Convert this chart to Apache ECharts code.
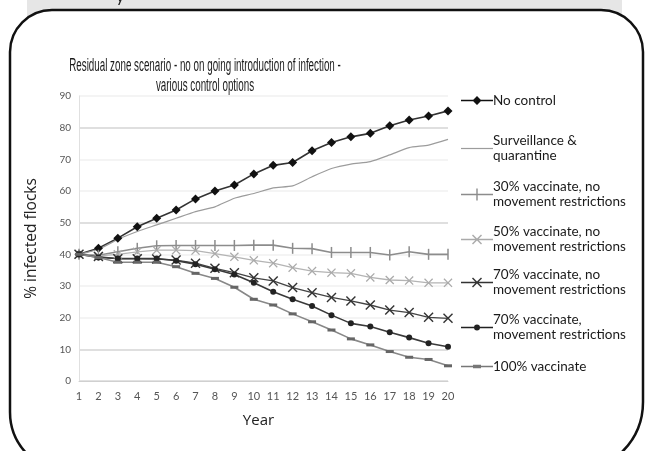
<!DOCTYPE html>
<html>
<head>
<meta charset="utf-8">
<script src="https://cdn.jsdelivr.net/npm/echarts@6/dist/echarts.min.js"></script>
<style>
  html, body { margin: 0; padding: 0; background: #fff; }
  #chart { width: 650px; height: 451px; }
</style>
</head>
<body>
<div id="chart"></div>
<script>
const years = ['1','2','3','4','5','6','7','8','9','10','11','12','13','14','15','16','17','18','19','20'];
const yTicks = [0, 10, 20, 30, 40, 50, 60, 70, 80, 90];

const noControl      = [40.0, 41.9, 45.1, 48.7, 51.4, 54.0, 57.5, 60.0, 61.9, 65.4, 68.1, 69.0, 72.7, 75.3, 77.1, 78.2, 80.6, 82.4, 83.7, 85.3];
const surveillance   = [40.0, 41.6, 44.7, 47.2, 49.3, 51.4, 53.5, 55.0, 57.7, 59.2, 61.0, 61.6, 64.5, 67.1, 68.5, 69.3, 71.4, 73.7, 74.5, 76.3];
const vacc30         = [40.0, 39.7, 40.8, 41.9, 42.7, 42.8, 42.8, 42.8, 42.8, 42.9, 42.9, 41.9, 41.8, 40.6, 40.6, 40.6, 39.8, 40.8, 40.0, 40.0];
const vacc50         = [40.0, 39.5, 40.0, 40.8, 41.3, 41.3, 41.2, 40.2, 39.2, 38.1, 37.2, 35.8, 34.7, 34.2, 34.0, 32.7, 31.9, 31.7, 31.0, 31.0];
const vacc70         = [40.0, 39.3, 38.6, 38.6, 38.5, 38.2, 37.2, 35.6, 34.2, 32.6, 31.6, 29.5, 27.9, 26.4, 25.3, 24.0, 22.4, 21.6, 20.1, 19.8];
const vacc70Movement = [40.0, 39.0, 38.7, 38.7, 38.7, 38.0, 36.9, 35.3, 33.6, 31.0, 28.2, 25.8, 23.7, 20.8, 18.2, 17.2, 15.4, 13.7, 11.9, 10.8];
const vacc100        = [40.0, 39.0, 37.5, 37.5, 37.5, 36.1, 34.0, 32.4, 29.6, 25.8, 24.0, 21.2, 18.7, 16.1, 13.3, 11.4, 9.3, 7.5, 6.8, 4.8];

const names = [
  'No control',
  'Surveillance &\nquarantine',
  '30% vaccinate, no\nmovement restrictions',
  '50% vaccinate, no\nmovement restrictions',
  '70% vaccinate, no\nmovement restrictions',
  '70% vaccinate,\nmovement restrictions',
  '100% vaccinate'
];

// marker shapes
const crossPath = 'path://M0,1L1,0L5,4L9,0L10,1L6,5L10,9L9,10L5,6L1,10L0,9L4,5Z';

// legend icons: line + marker in a 32x12 box
const box = 'M0,0L0,0M32,12L32,12';
const lineBar = 'M0,5.3H32V6.7H0Z';
const legendIcons = [
  'path://' + box + lineBar + 'M16,1.5L20.5,6L16,10.5L11.5,6Z',
  'path://' + box + 'M0,5.4H32V6.6H0Z',
  'path://' + box + lineBar + 'M15.3,0H16.7V12H15.3Z',
  'path://' + box + lineBar + 'M11,2L12,1L16,5L20,1L21,2L17,6L21,10L20,11L16,7L12,11L11,10L15,6Z',
  'path://' + box + lineBar + 'M11,2L12,1L16,5L20,1L21,2L17,6L21,10L20,11L16,7L12,11L11,10L15,6Z',
  'path://' + box + lineBar + 'M13,6A3,3 0 1,1 19,6A3,3 0 1,1 13,6Z',
  'path://' + box + lineBar + 'M12,4.3H20V7.7H12Z'
];
const legendColors = ['#111', '#9c9c9c', '#8c8c8c', '#aaa', '#333', '#222', '#777'];
const legendTops = [88, 121, 167, 212, 255, 300, 354];

let chartDom = document.getElementById('chart');
let myChart = echarts.init(chartDom, null, { renderer: 'canvas' });

const font = 'Lato, "Open Sans", sans-serif';

let option = {
  animation: false,
  backgroundColor: 'transparent',
  graphic: [
    { type: 'rect', z: -10, shape: { x: 27, y: 0, width: 595, height: 40 }, style: { fill: '#e6e6e6' } },
    { type: 'text', z: -9, style: { x: 116, y: -11, text: 'y', fill: '#222', font: '16px ' + font } },
    {
      type: 'rect', z: -8,
      shape: { x: 10, y: 10, width: 633, height: 462, r: [42, 42, 70, 60] },
      style: { fill: '#fff', stroke: '#111', lineWidth: 2.5 }
    },
    {
      // condensed title, as in the original
      type: 'text', x: 205, y: 56, scaleX: 0.545,
      style: {
        text: 'Residual zone scenario - no on going introduction of infection -\nvarious control options',
        align: 'center',
        verticalAlign: 'top',
        fill: '#1a1a1a',
        font: '18px "Liberation Sans", sans-serif',
        lineHeight: 20
      }
    }
  ],
  legend: names.map((n, i) => ({
    data: [{ name: n, icon: legendIcons[i], itemStyle: { color: legendColors[i], borderWidth: 0 } }],
    left: 456,
    top: legendTops[i],
    itemWidth: 32,
    itemHeight: 12,
    symbolKeepAspect: false,
    textStyle: {
      fontFamily: font,
      fontSize: 13.5,
      color: '#1a1a1a',
      lineHeight: 15,
      padding: n.indexOf('\n') >= 0 ? [15, 0, 0, -5] : [0, 0, 0, -5]
    }
  })),
  grid: { left: 79, right: 202, top: 96, bottom: 70 },
  xAxis: {
    type: 'category',
    data: years,
    boundaryGap: false,
    name: 'Year',
    nameLocation: 'middle',
    nameGap: 32,
    nameTextStyle: { fontFamily: '"Open Sans", sans-serif', fontSize: 15, color: '#222', padding: [0, 10, 0, 0] },
    axisLine: { lineStyle: { color: '#d0d0d0' } },
    axisTick: { show: false },
    axisLabel: { color: '#555', fontSize: 11, fontFamily: font, margin: 10 },
    splitLine: { show: false }
  },
  yAxis: {
    type: 'value',
    min: yTicks[0],
    max: yTicks[yTicks.length - 1],
    interval: 10,
    name: '% infected flocks',
    nameLocation: 'middle',
    nameGap: 39,
    nameTextStyle: { fontFamily: '"Open Sans", sans-serif', fontSize: 15.5, color: '#222' },
    axisLine: { show: true, lineStyle: { color: '#e0e0e0' } },
    axisTick: { show: false },
    axisLabel: { color: '#555', fontSize: 10, fontFamily: font, margin: 8 },
    splitLine: {
      lineStyle: {
        color: ['#d8d8d8', '#d4d4d4', '#f0f0f0', '#f0f0f0', '#f0f0f0', '#d4d4d4', '#f0f0f0', '#f0f0f0', '#d4d4d4', '#f0f0f0'],
        width: 1.5
      }
    }
  },
  series: [
    {
      name: names[0], type: 'line', data: noControl,
      symbol: 'diamond', symbolSize: 9,
      lineStyle: { color: '#333', width: 1.6 },
      itemStyle: { color: '#111' }
    },
    {
      name: names[1], type: 'line', data: surveillance,
      symbol: 'none', smooth: 0.2,
      lineStyle: { color: '#9c9c9c', width: 1.2 },
      itemStyle: { color: '#9c9c9c' }
    },
    {
      name: names[2], type: 'line', data: vacc30,
      symbol: 'rect', symbolSize: [1.5, 11],
      lineStyle: { color: '#8c8c8c', width: 1.6 },
      itemStyle: { color: '#8c8c8c' }
    },
    {
      name: names[3], type: 'line', data: vacc50,
      symbol: crossPath, symbolSize: 9,
      lineStyle: { color: '#b4b4b4', width: 1.3 },
      itemStyle: { color: '#aaa' }
    },
    {
      name: names[4], type: 'line', data: vacc70,
      symbol: crossPath, symbolSize: 10,
      lineStyle: { color: '#444', width: 1.3 },
      itemStyle: { color: '#333' }
    },
    {
      name: names[5], type: 'line', data: vacc70Movement,
      symbol: 'circle', symbolSize: 6,
      lineStyle: { color: '#3a3a3a', width: 1.6 },
      itemStyle: { color: '#222' }
    },
    {
      name: names[6], type: 'line', data: vacc100,
      symbol: 'rect', symbolSize: [8, 3],
      lineStyle: { color: '#888', width: 1.6 },
      itemStyle: { color: '#666' }
    }
  ]
};

myChart.setOption(option);
</script>
</body>
</html>
